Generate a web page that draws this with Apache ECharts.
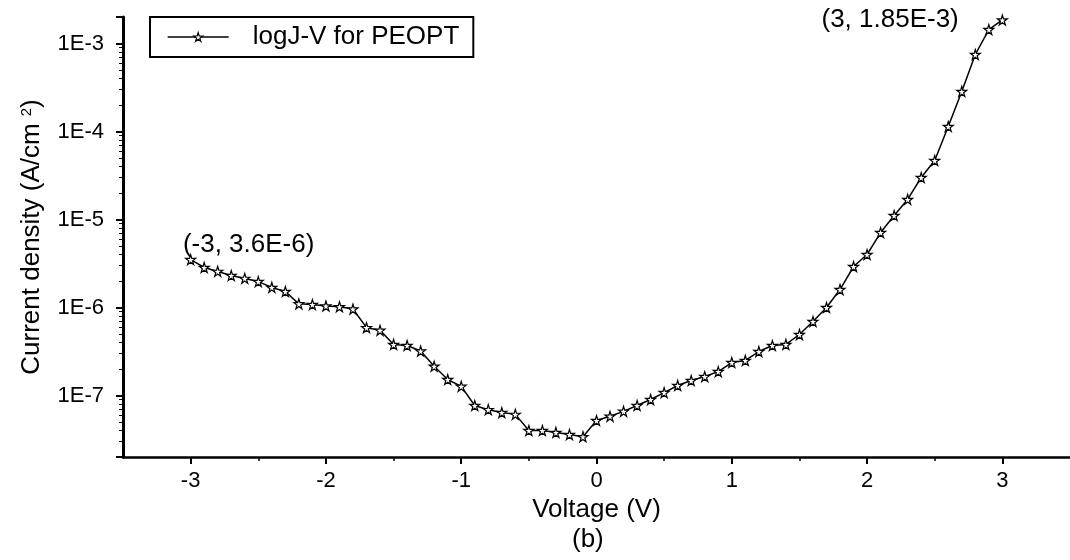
<!DOCTYPE html>
<html>
<head>
<meta charset="utf-8">
<script src="https://cdn.jsdelivr.net/npm/echarts@6/dist/echarts.min.js"></script>
<style>
  html, body { margin: 0; padding: 0; background: #fff; }
  #main { width: 1070px; height: 560px; }
</style>
</head>
<body>
<div id="main"></div>
<script>
// voltage (V) and current density (A/cm^2)
var voltage = [-3.0, -2.9, -2.8, -2.7, -2.6, -2.5, -2.4, -2.3, -2.2, -2.1,
  -2.0, -1.9, -1.8, -1.7, -1.6, -1.5, -1.4, -1.3, -1.2, -1.1,
  -1.0, -0.9, -0.8, -0.7, -0.6, -0.5, -0.4, -0.3, -0.2, -0.1,
  0.0, 0.1, 0.2, 0.3, 0.4, 0.5, 0.6, 0.7, 0.8, 0.9,
  1.0, 1.1, 1.2, 1.3, 1.4, 1.5, 1.6, 1.7, 1.8, 1.9,
  2.0, 2.1, 2.2, 2.3, 2.4, 2.5, 2.6, 2.7, 2.8, 2.9, 3.0];
var density = [3.5e-6, 2.85e-6, 2.57e-6, 2.31e-6, 2.14e-6, 1.97e-6, 1.69e-6, 1.52e-6, 1.10e-6, 1.08e-6,
  1.04e-6, 1.02e-6, 0.96e-6, 5.9e-7, 5.5e-7, 3.8e-7, 3.7e-7, 3.2e-7, 2.15e-7, 1.52e-7,
  1.27e-7, 7.7e-8, 6.9e-8, 6.4e-8, 6.1e-8, 4.0e-8, 4.0e-8, 3.8e-8, 3.6e-8, 3.4e-8,
  5.2e-8, 5.8e-8, 6.6e-8, 7.7e-8, 9.0e-8, 1.08e-7, 1.30e-7, 1.48e-7, 1.64e-7, 1.87e-7,
  2.37e-7, 2.50e-7, 3.16e-7, 3.70e-7, 3.80e-7, 4.93e-7, 6.93e-7, 1.0e-6, 1.6e-6, 2.92e-6,
  4.0e-6, 7.1e-6, 1.11e-5, 1.69e-5, 3.0e-5, 4.68e-5, 1.14e-4, 2.85e-4, 7.5e-4, 1.44e-3, 1.85e-3];
var xMajorTicks = [-3, -2, -1, 0, 1, 2, 3];
var xMinorTicks = [-2.5, -1.5, -0.5, 0.5, 1.5, 2.5];
var endLabels = { first: '(-3, 3.6E-6)', last: '(3, 1.85E-3)' };

var FONT = '"Liberation Sans", Arial, sans-serif';
var STAR = 'path://M50,0 L61,35 L98,35 L68,57 L79,91 L50,70 L21,91 L32,57 L2,35 L39,35 Z';

var points = voltage.map(function (v, i) {
  var item = { value: [v, density[i]] };
  if (i === 0) {
    item.label = { show: true, formatter: endLabels.first, position: 'top', distance: 0, offset: [58, 4] };
  } else if (i === voltage.length - 1) {
    item.label = { show: true, formatter: endLabels.last, position: 'left', distance: 38 };
  }
  return item;
});

var chart = echarts.init(document.getElementById('main'));
var option = {
  animation: false,
  backgroundColor: '#fff',
  textStyle: { fontFamily: FONT, color: '#000' },
  grid: { left: 123, top: 17, width: 951, height: 440 },
  legend: {
    left: 150, top: 17,
    orient: 'horizontal',
    borderColor: '#000', borderWidth: 2,
    padding: [7, 14, 7, 17],
    itemWidth: 61, itemHeight: 11,
    itemStyle: { color: '#fff', borderColor: '#000', borderWidth: 1.2 },
    lineStyle: { color: '#000', width: 1.4 },
    textStyle: { fontFamily: FONT, fontSize: 26, color: '#000', padding: [0, 0, 0, 19] },
    data: ['logJ-V for PEOPT']
  },
  xAxis: [{
    type: 'value',
    min: -3.5, max: 3.5,
    position: 'bottom',
    name: 'Voltage (V)',
    nameLocation: 'middle',
    nameGap: 39,
    nameTextStyle: { fontFamily: FONT, fontSize: 26, color: '#000' },
    axisLine: { onZero: false, lineStyle: { color: '#000', width: 2.5 } },
    axisTick: { customValues: xMajorTicks, length: 7, lineStyle: { color: '#000', width: 2 } },
    axisLabel: { customValues: xMajorTicks, margin: 13, fontFamily: FONT, fontSize: 22, color: '#000' },
    splitLine: { show: false }
  }, {
    type: 'value',
    min: -3.5, max: 3.5,
    position: 'bottom',
    axisLine: { show: false, onZero: false },
    axisTick: { customValues: xMinorTicks, length: 4, lineStyle: { color: '#000', width: 1.5 } },
    axisLabel: { show: false },
    splitLine: { show: false }
  }],
  yAxis: {
    type: 'log',
    logBase: 10,
    min: 2e-8, max: 2e-3,
    position: 'left',
    name: 'Current density (A/cm{s|2})',
    nameLocation: 'middle',
    nameGap: 78,
    nameTextStyle: {
      fontFamily: FONT, fontSize: 26, color: '#000',
      rich: { s: { fontFamily: FONT, fontSize: 15, color: '#000', verticalAlign: 'top', padding: [0, 0, 0, 7] } }
    },
    axisLine: { show: true, onZero: false, lineStyle: { color: '#000', width: 3 } },
    axisTick: { show: true, length: 7, lineStyle: { color: '#000', width: 2 } },
    minorTick: { show: true, splitNumber: 9, length: 4, lineStyle: { color: '#000', width: 1 } },
    axisLabel: {
      margin: 19, fontFamily: FONT, fontSize: 22, color: '#000',
      formatter: function (v) {
        var e = Math.log10(v);
        var r = Math.round(e);
        return Math.abs(e - r) < 1e-6 ? '1E' + r : '';
      }
    },
    splitLine: { show: false }
  },
  series: [{
    name: 'logJ-V for PEOPT',
    type: 'line',
    data: points,
    symbol: STAR,
    symbolSize: 10,
    showAllSymbol: true,
    lineStyle: { color: '#000', width: 1.5 },
    itemStyle: { color: '#fff', borderColor: '#000', borderWidth: 1.2 },
    label: { fontFamily: FONT, fontSize: 26, color: '#000' },
    emphasis: { disabled: true }
  }],
  graphic: [{
    type: 'text',
    left: 572,
    top: 527,
    style: { text: '(b)', font: '26px ' + FONT, fill: '#000' }
  }]
};
chart.setOption(option);
</script>
</body>
</html>
